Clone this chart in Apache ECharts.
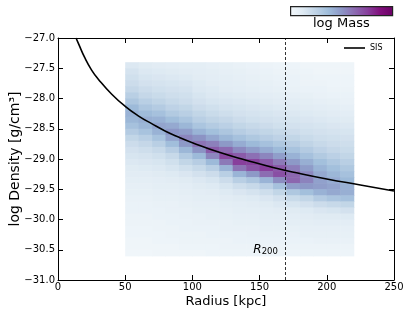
<!DOCTYPE html>
<html>
<head>
<meta charset="utf-8">
<script src="https://cdn.jsdelivr.net/npm/echarts@6/dist/echarts.min.js"></script>
<style>html,body{margin:0;padding:0;background:#fff}#c{width:415px;height:312px}</style>
</head>
<body>
<div id="c"></div>
<script>
// ---- data ----
const radiusBins = [55, 65, 75, 85, 95, 105, 115, 125, 135, 145, 155, 165, 175, 185, 195, 205, 215];
const densityBins = [-27.45, -27.55, -27.65, -27.75, -27.85, -27.95, -28.05, -28.15, -28.25, -28.35, -28.45, -28.55, -28.65, -28.75, -28.85, -28.95, -29.05, -29.15, -29.25, -29.35, -29.45, -29.55, -29.65, -29.75, -29.85, -29.95, -30.05, -30.15, -30.25, -30.35, -30.45, -30.55];
// log mass per radius bin (each list runs over densityBins, top to bottom)
const logMass = [
  [1.5,1.8,2.0,2.2,2.5,3.0,3.5,4.2,4.5,4.3,3.8,3.2,2.6,2.2,1.9,1.7,1.5,1.3,1.2,1.0,0.9,0.8,0.7,0.6,0.6,0.5,0.5,0.4,0.4,0.3,0.3,0.2],
  [1.3,1.5,1.7,1.9,2.2,2.5,3.0,3.5,4.1,4.6,4.3,3.7,3.0,2.5,2.1,1.8,1.6,1.4,1.2,1.0,0.9,0.8,0.7,0.6,0.6,0.5,0.5,0.4,0.4,0.3,0.3,0.2],
  [1.2,1.4,1.6,1.8,2.0,2.3,2.7,3.2,3.8,4.5,5.0,4.5,3.7,3.0,2.4,2.0,1.7,1.5,1.3,1.1,1.0,0.9,0.8,0.7,0.6,0.6,0.5,0.5,0.4,0.4,0.3,0.3],
  [1.1,1.3,1.5,1.7,1.9,2.1,2.4,2.8,3.3,4.0,4.8,5.5,5.0,4.0,3.1,2.4,2.0,1.7,1.4,1.2,1.0,0.9,0.8,0.7,0.7,0.6,0.6,0.5,0.5,0.4,0.3,0.3],
  [1.0,1.2,1.4,1.6,1.8,2.0,2.2,2.6,3.0,3.6,4.3,5.2,6.0,5.4,4.3,3.3,2.6,2.0,1.6,1.3,1.1,1.0,0.9,0.8,0.7,0.7,0.6,0.6,0.5,0.5,0.4,0.3],
  [1.0,1.1,1.2,1.4,1.5,1.7,1.9,2.2,2.6,3.0,3.6,4.4,5.6,6.6,5.6,4.2,3.1,2.4,1.9,1.5,1.3,1.1,1.0,0.9,0.8,0.7,0.7,0.6,0.5,0.5,0.4,0.3],
  [0.9,1.0,1.1,1.2,1.4,1.5,1.7,2.0,2.3,2.7,3.2,3.9,4.9,6.2,7.4,6.0,4.2,3.0,2.2,1.7,1.4,1.2,1.0,0.9,0.8,0.8,0.7,0.6,0.6,0.5,0.4,0.4],
  [0.8,0.9,1.0,1.1,1.2,1.4,1.6,1.8,2.1,2.5,2.9,3.5,4.3,5.4,6.9,8.0,6.4,4.4,3.0,2.2,1.7,1.4,1.2,1.0,0.9,0.8,0.7,0.7,0.6,0.5,0.5,0.4],
  [0.7,0.8,0.9,1.0,1.1,1.3,1.5,1.7,1.9,2.2,2.6,3.1,3.8,4.7,5.9,7.4,8.3,6.6,4.4,3.0,2.1,1.6,1.3,1.1,1.0,0.9,0.8,0.7,0.6,0.6,0.5,0.4],
  [0.6,0.7,0.8,0.9,1.0,1.2,1.4,1.6,1.8,2.0,2.4,2.8,3.4,4.2,5.3,6.7,8.2,7.6,5.4,3.5,2.4,1.8,1.4,1.2,1.0,0.9,0.8,0.7,0.7,0.6,0.5,0.4],
  [0.5,0.6,0.7,0.8,0.9,1.1,1.3,1.5,1.7,1.9,2.2,2.6,3.1,3.8,4.7,6.0,7.4,8.3,6.8,4.4,2.9,2.1,1.6,1.3,1.1,1.0,0.9,0.8,0.7,0.6,0.5,0.4],
  [0.4,0.5,0.6,0.7,0.8,1.0,1.2,1.4,1.6,1.8,2.0,2.4,2.8,3.4,4.2,5.2,6.4,7.5,7.8,5.8,3.8,2.6,1.9,1.5,1.2,1.0,0.9,0.8,0.7,0.6,0.5,0.4],
  [0.4,0.5,0.6,0.6,0.7,0.9,1.1,1.3,1.5,1.7,1.9,2.2,2.6,3.1,3.7,4.5,5.4,6.3,7.0,7.0,5.2,3.4,2.3,1.7,1.3,1.1,1.0,0.8,0.7,0.6,0.5,0.4],
  [0.3,0.4,0.5,0.5,0.6,0.8,1.0,1.2,1.4,1.6,1.8,2.0,2.3,2.7,3.2,3.8,4.6,5.3,5.9,6.1,5.4,3.9,2.6,1.9,1.4,1.2,1.0,0.9,0.8,0.6,0.5,0.4],
  [0.3,0.3,0.4,0.5,0.6,0.7,0.9,1.1,1.3,1.5,1.7,1.9,2.1,2.4,2.8,3.3,3.9,4.4,4.8,5.1,5.2,4.5,3.2,2.2,1.6,1.3,1.1,0.9,0.8,0.7,0.5,0.4],
  [0.3,0.3,0.4,0.4,0.5,0.6,0.8,1.0,1.2,1.4,1.6,1.8,2.0,2.2,2.5,2.9,3.4,3.9,4.3,4.7,5.0,4.8,3.6,2.4,1.7,1.3,1.1,0.9,0.8,0.7,0.5,0.4],
  [0.3,0.3,0.4,0.4,0.5,0.6,0.7,0.9,1.1,1.3,1.5,1.7,1.9,2.1,2.3,2.6,3.0,3.4,3.8,4.2,4.5,4.6,3.8,2.6,1.9,1.4,1.1,0.9,0.8,0.7,0.5,0.4]
];
const sisRadius = [13.4, 15, 20, 25, 30, 40, 50, 60, 70, 80, 90, 100, 120, 140, 160, 180, 200, 225, 250];
const sisDensity = [-27.0, -27.08, -27.33, -27.53, -27.68, -27.93, -28.13, -28.29, -28.42, -28.54, -28.64, -28.73, -28.89, -29.02, -29.14, -29.24, -29.33, -29.43, -29.53];
const r200 = 169;
const xTicks = [0, 50, 100, 150, 200, 250];
const yTicks = [-31.0, -30.5, -30.0, -29.5, -29.0, -28.5, -28.0, -27.5, -27.0];
const massColors = ['#f3f8fb', '#dfeaf3', '#bfd3e6', '#9ebcda', '#8c96c6', '#8c6bb1', '#88419d', '#810f7c', '#6a0065'];
const massMin = 0, massMax = 11;

// ---- build ----
const binW = radiusBins[1] - radiusBins[0];
const binH = densityBins[0] - densityBins[1];
const cells = [];
radiusBins.forEach((r, i) => densityBins.forEach((d, j) => cells.push([r, d, logMass[i][j]])));
const sisData = sisRadius.map((r, i) => [r, sisDensity[i]]);
const fmt = v => v.toFixed(1).replace('-', '\u2212');
const FONT = 'DejaVu Sans';
const axisCommon = {
  nameMoveOverlap: false,
  axisLine: { show: true, onZero: false, lineStyle: { color: '#000', width: 1 } },
  axisTick: { show: true, inside: true, length: 5, lineStyle: { color: '#000', width: 1 } },
  splitLine: { show: false }
};
const barStops = massColors.map((c, i) => ({ offset: i / (massColors.length - 1), color: c }));

const chart = echarts.init(document.getElementById('c'), null, { renderer: 'canvas' });
chart.setOption({
  animation: false,
  backgroundColor: '#fff',
  textStyle: { fontFamily: FONT },
  grid: { left: 58, top: 38, right: 21, bottom: 32, containLabel: false, outerBoundsMode: 'none' },
  xAxis: [
    Object.assign({}, axisCommon, {
      type: 'value', min: xTicks[0], max: xTicks[xTicks.length - 1], interval: 50, position: 'bottom',
      name: 'Radius [kpc]', nameLocation: 'middle', nameGap: 15,
      nameTextStyle: { fontFamily: FONT, fontSize: 13, color: '#000', verticalAlign: 'top' },
      axisLabel: { fontFamily: FONT, fontSize: 10, color: '#000', margin: 2 }
    }),
    Object.assign({}, axisCommon, {
      type: 'value', min: xTicks[0], max: xTicks[xTicks.length - 1], interval: 50, position: 'top',
      axisLabel: { show: false }
    })
  ],
  yAxis: [
    Object.assign({}, axisCommon, {
      type: 'value', min: yTicks[0], max: yTicks[yTicks.length - 1], interval: 0.5, position: 'left',
      name: 'log Density [g/cm\u00b3]', nameLocation: 'middle', nameGap: 36,
      nameTextStyle: { fontFamily: FONT, fontSize: 14, color: '#000', verticalAlign: 'bottom' },
      axisLabel: { fontFamily: FONT, fontSize: 10, color: '#000', margin: 3, formatter: fmt }
    }),
    Object.assign({}, axisCommon, {
      type: 'value', min: yTicks[0], max: yTicks[yTicks.length - 1], interval: 0.5, position: 'right',
      axisLabel: { show: false }
    })
  ],
  visualMap: {
    show: false, type: 'continuous', seriesIndex: 0, dimension: 2, min: massMin, max: massMax,
    inRange: { color: massColors }
  },
  legend: {
    data: ['SIS'], left: 344, top: 44, itemWidth: 21, itemHeight: 1.6, icon: 'rect', padding: 0,
    textStyle: { fontFamily: FONT, fontSize: 8, color: '#000' }
  },
  graphic: [
    { type: 'rect', left: 290, top: 6, shape: { width: 102, height: 9 },
      style: { fill: new echarts.graphic.LinearGradient(0, 0, 1, 0, barStops), stroke: '#222', lineWidth: 1.2 }, z: 100 },
    { type: 'text', left: 313, top: 17, style: { text: 'log Mass', font: '13px "DejaVu Sans"', fill: '#000' } }
  ],
  series: [
    {
      name: 'mass', type: 'custom', coordinateSystem: 'cartesian2d', xAxisIndex: 0, yAxisIndex: 0,
      data: cells, encode: { x: 0, y: 1 }, silent: true, z: 1,
      renderItem: function (params, api) {
        const x = api.value(0), y = api.value(1);
        const p1 = api.coord([x - binW / 2, y + binH / 2]);
        const p2 = api.coord([x + binW / 2, y - binH / 2]);
        return { type: 'rect', shape: { x: p1[0], y: p1[1], width: p2[0] - p1[0] + 0.6, height: p2[1] - p1[1] + 0.6 },
                 style: { fill: api.visual('color') } };
      }
    },
    {
      name: 'SIS', type: 'line', data: sisData, smooth: true, symbol: 'none', z: 5,
      lineStyle: { color: '#000', width: 1.6 }, itemStyle: { color: '#000' },
      markLine: {
        silent: true, symbol: 'none', label: { show: false },
        lineStyle: { color: '#000', type: [3, 2], width: 0.8 },
        data: [{ xAxis: r200 }]
      },
      markPoint: {
        silent: true, symbol: 'rect', symbolSize: 1, itemStyle: { color: 'rgba(0,0,0,0)' },
        label: {
          show: true, position: 'inside', formatter: '{r|R}{s|200}',
          rich: {
            r: { fontFamily: FONT, fontStyle: 'italic', fontSize: 12, color: '#000', verticalAlign: 'bottom' },
            s: { fontFamily: FONT, fontSize: 8.5, color: '#000', padding: [4, 0, 0, 0], verticalAlign: 'bottom' }
          }
        },
        data: [{ coord: [154.5, -30.5] }]
      }
    }
  ]
});
</script>
</body>
</html>
